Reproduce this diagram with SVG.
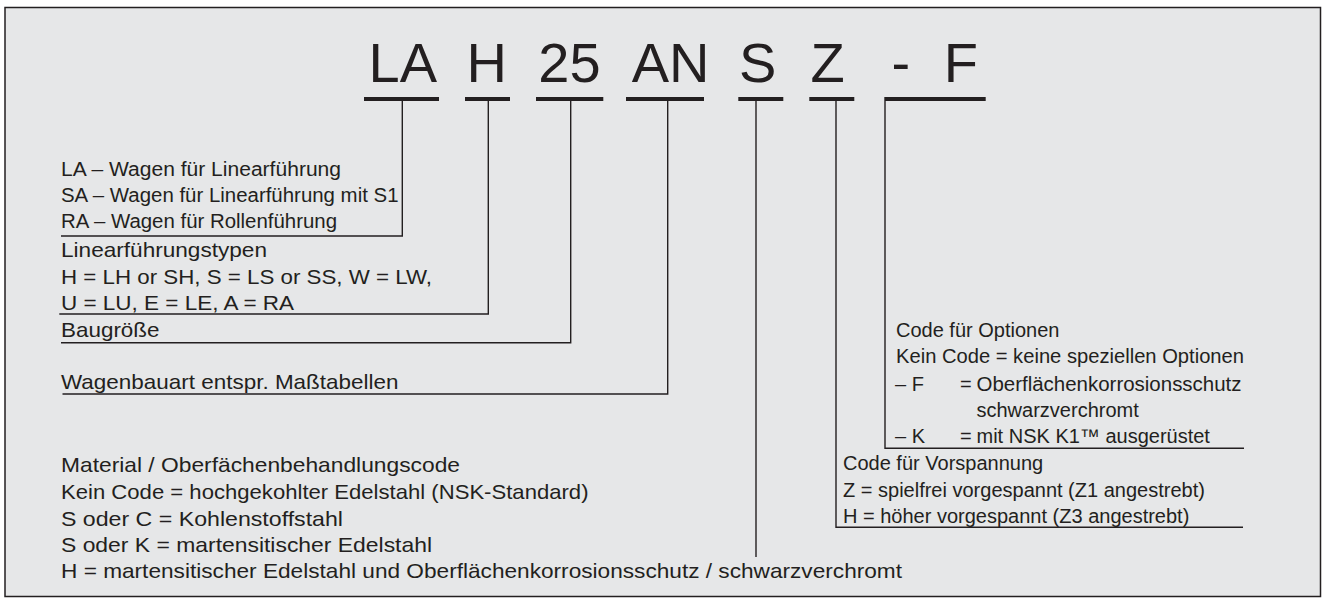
<svg xmlns="http://www.w3.org/2000/svg" width="1323" height="609" viewBox="0 0 1323 609">
<style>
.big{font-family:"Liberation Sans",Arial,sans-serif;font-size:56px;fill:#231f20}
.t{font-family:"Liberation Sans",Arial,sans-serif;font-size:20px;fill:#231f20}
.m{font-family:"Liberation Sans",Arial,sans-serif;font-size:21px;fill:#231f20}
.bar{stroke:#231f20;stroke-width:4;fill:none}
.ln{stroke:#231f20;stroke-width:1.4;fill:none}
</style>
<rect x="5" y="7.5" width="1315.5" height="589" fill="#e6e7e8" stroke="#231f20" stroke-width="1.5"/>
<g id="code">
<text class="big" x="368.6" y="81.7">LA</text>
<text class="big" x="466.6" y="81.7">H</text>
<text class="big" x="538.3" y="81.7">25</text>
<text class="big" x="631.7" y="81.7">AN</text>
<text class="big" x="739" y="81.7">S</text>
<text class="big" x="810.5" y="81.7">Z</text>
<text class="big" x="891.5" y="81.7">-</text>
<text class="big" x="943.7" y="81.7">F</text>
</g>
<g id="connectors">
<line class="bar" x1="364" y1="99" x2="439" y2="99"/>
<line class="bar" x1="465" y1="99" x2="510" y2="99"/>
<line class="bar" x1="536" y1="99" x2="603.3" y2="99"/>
<line class="bar" x1="626" y1="99" x2="704" y2="99"/>
<line class="bar" x1="738.3" y1="99" x2="783.3" y2="99"/>
<line class="bar" x1="809.3" y1="99" x2="854.3" y2="99"/>
<line class="bar" x1="884.3" y1="99" x2="985.7" y2="99"/>
<polyline class="ln" points="402.3,101 402.3,236 61,236"/>
<polyline class="ln" points="488.3,101 488.3,314 59.3,314"/>
<polyline class="ln" points="570.7,101 570.7,342.7 61,342.7"/>
<polyline class="ln" points="667.7,101 667.7,394 62.5,394"/>
<polyline class="ln" points="756,101 756,557"/>
<polyline class="ln" points="836,101 836,527.3 1243,527.3"/>
<polyline class="ln" points="885,101 885,448.3 1244,448.3"/>
</g>
<g id="n-la">
<text class="t" x="61" y="176" textLength="280" lengthAdjust="spacingAndGlyphs">LA – Wagen für Linearführung</text>
<text class="t" x="61" y="202.3" textLength="337.5" lengthAdjust="spacingAndGlyphs">SA – Wagen für Linearführung mit S1</text>
<text class="t" x="61" y="228.3" textLength="276" lengthAdjust="spacingAndGlyphs">RA – Wagen für Rollenführung</text>
</g>
<g id="n-typ">
<text class="m" x="61" y="256.7" textLength="206" lengthAdjust="spacingAndGlyphs">Linearführungstypen</text>
<text class="m" x="61" y="284" textLength="371" lengthAdjust="spacingAndGlyphs">H = LH or SH, S = LS or SS, W = LW,</text>
<text class="m" x="61" y="310" textLength="233" lengthAdjust="spacingAndGlyphs">U = LU, E = LE, A = RA</text>
</g>
<g id="n-size">
<text class="m" x="61" y="336.7" textLength="98.5" lengthAdjust="spacingAndGlyphs">Baugröße</text>
</g>
<g id="n-bauart">
<text class="m" x="61" y="389.3" textLength="337.5" lengthAdjust="spacingAndGlyphs">Wagenbauart entspr. Maßtabellen</text>
</g>
<g id="n-mat">
<text class="m" x="61" y="472" textLength="399" lengthAdjust="spacingAndGlyphs">Material / Oberfächenbehandlungscode</text>
<text class="m" x="61" y="499" textLength="527.5" lengthAdjust="spacingAndGlyphs">Kein Code = hochgekohlter Edelstahl (NSK-Standard)</text>
<text class="m" x="61" y="526" textLength="282" lengthAdjust="spacingAndGlyphs">S oder C = Kohlenstoffstahl</text>
<text class="m" x="61" y="552" textLength="371" lengthAdjust="spacingAndGlyphs">S oder K = martensitischer Edelstahl</text>
<text class="m" x="61" y="578" textLength="841" lengthAdjust="spacingAndGlyphs">H = martensitischer Edelstahl und Oberflächenkorrosionsschutz / schwarzverchromt</text>
</g>
<g id="n-opt">
<text class="t" x="896" y="337.3">Code für Optionen</text>
<text class="t" x="896" y="363.3" textLength="348" lengthAdjust="spacingAndGlyphs">Kein Code = keine speziellen Optionen</text>
<text class="t" x="895" y="390.7">– F</text>
<text class="t" x="960" y="390.7">=</text>
<text class="t" x="976.5" y="390.7" textLength="265" lengthAdjust="spacingAndGlyphs">Oberflächenkorrosionsschutz</text>
<text class="t" x="976.5" y="417.3">schwarzverchromt</text>
<text class="t" x="895" y="443.3">– K</text>
<text class="t" x="960" y="443.3">=</text>
<text class="t" x="976.5" y="443.3">mit NSK K1™ ausgerüstet</text>
</g>
<g id="n-vor">
<text class="t" x="843" y="470">Code für Vorspannung</text>
<text class="t" x="843" y="496.7">Z = spielfrei vorgespannt (Z1 angestrebt)</text>
<text class="t" x="843" y="522.7">H = höher vorgespannt (Z3 angestrebt)</text>
</g>
</svg>
